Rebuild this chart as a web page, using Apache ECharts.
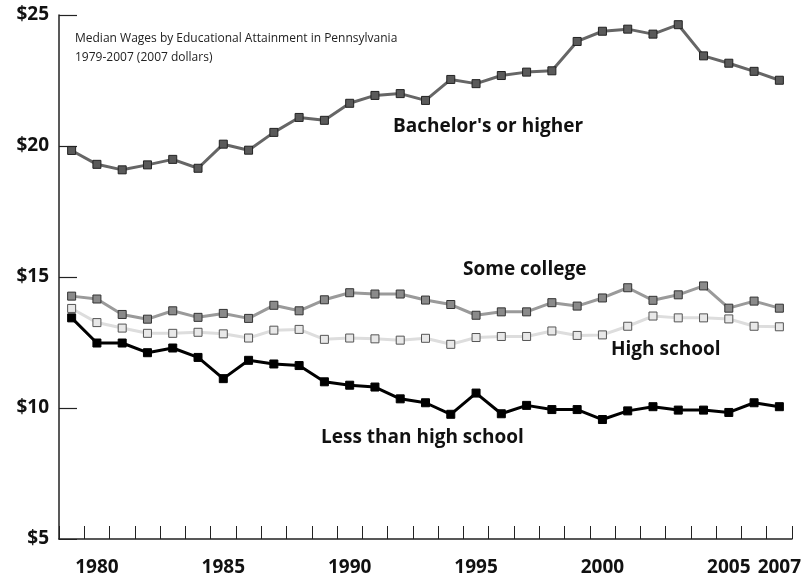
<!DOCTYPE html>
<html>
<head>
<meta charset="utf-8">
<script src="https://cdn.jsdelivr.net/npm/echarts@6/dist/echarts.min.js"></script>
<style>html,body{margin:0;padding:0;background:#fff}#c{width:812px;height:580px}</style>
</head>
<body>
<div id="c"></div>
<script>
var years = ['1979','1980','1981','1982','1983','1984','1985','1986','1987','1988','1989','1990','1991','1992','1993','1994','1995','1996','1997','1998','1999','2000','2001','2002','2003','2004','2005','2006','2007'];
var shownYears = ['1980','1985','1990','1995','2000','2005','2007'];
var yTicks = [10, 15, 20, 25];
var bachelors = [19.83,19.30,19.09,19.28,19.49,19.15,20.07,19.84,20.52,21.09,20.98,21.63,21.93,22.00,21.74,22.54,22.38,22.69,22.82,22.87,23.99,24.38,24.46,24.27,24.63,23.44,23.16,22.85,22.51];
var someCollege = [14.27,14.16,13.57,13.39,13.71,13.46,13.61,13.42,13.92,13.71,14.13,14.40,14.35,14.35,14.12,13.95,13.54,13.67,13.67,14.02,13.89,14.20,14.59,14.11,14.32,14.66,13.81,14.08,13.81];
var highSchool = [13.80,13.26,13.05,12.85,12.85,12.89,12.83,12.67,12.97,13.00,12.62,12.67,12.64,12.59,12.66,12.43,12.69,12.73,12.73,12.94,12.77,12.79,13.12,13.51,13.44,13.44,13.40,13.12,13.10];
var lessThanHS = [13.44,12.48,12.48,12.11,12.29,11.93,11.12,11.82,11.68,11.62,11.00,10.87,10.80,10.35,10.20,9.76,10.57,9.78,10.10,9.94,9.94,9.56,9.89,10.05,9.92,9.92,9.83,10.20,10.05];

var FONT = '"Open Sans", "DejaVu Sans", sans-serif';
var GRID_LEFT = 59, Y_TICK_LEN = 18;
function mk(name, data, lineColor, fill, border, z) {
  return {
    name: name, type: 'line', data: data, z: z,
    symbol: 'rect', symbolSize: 8, showSymbol: true,
    lineStyle: {color: lineColor, width: 3},
    itemStyle: {color: fill, borderColor: border, borderWidth: 1},
    emphasis: {disabled: true}, animation: false
  };
}
var labelGraphics = [
  {id: 'lbl0', type: 'text', left: 393, top: 117, style: {text: "Bachelor's or higher", font: 'bold 19px ' + FONT, fill: '#111'}},
  {id: 'lbl1', type: 'text', left: 463, top: 260, style: {text: 'Some college', font: 'bold 19px ' + FONT, fill: '#111'}},
  {id: 'lbl2', type: 'text', left: 611, top: 340, style: {text: 'High school', font: 'bold 19px ' + FONT, fill: '#111'}},
  {id: 'lbl3', type: 'text', left: 321, top: 428, style: {text: 'Less than high school', font: 'bold 19px ' + FONT, fill: '#111'}}
];
var chart = echarts.init(document.getElementById('c'));
chart.setOption({
  backgroundColor: '#fff',
  animation: false,
  title: {
    text: 'Median Wages by Educational Attainment in Pennsylvania\n1979-2007 (2007 dollars)',
    left: 70, top: 24,
    textStyle: {fontFamily: FONT, fontSize: 12, fontWeight: 'normal', color: '#222', lineHeight: 19}
  },
  grid: {left: GRID_LEFT, right: 20, top: 15, bottom: 41, containLabel: false},
  xAxis: {
    type: 'category', data: years, boundaryGap: true,
    axisLine: {show: true, lineStyle: {color: '#222', width: 1.5}},
    axisTick: {show: true, inside: true, length: 13, interval: function () { return true; }},
    axisLabel: {
      interval: function (i, v) { return shownYears.indexOf(v) >= 0; },
      margin: 19, fontFamily: FONT, fontSize: 19, fontWeight: 'bold', color: '#111'
    },
    splitLine: {show: false}
  },
  yAxis: {
    type: 'value', min: 5, max: 25, interval: 5,
    axisLine: {show: true, lineStyle: {color: '#222', width: 1.5}},
    axisTick: {show: true, inside: true, length: Y_TICK_LEN},
    axisLabel: {formatter: '${value}', margin: 10, fontFamily: FONT, fontSize: 19, fontWeight: 'bold', color: '#111'},
    splitLine: {show: false}
  },
  series: [
    mk("High school", highSchool, '#dddddd', '#e8e8e8', '#555', 2),
    mk("Less than high school", lessThanHS, '#000000', '#000000', '#000', 3),
    mk("Some college", someCollege, '#9a9a9a', '#8a8a8a', '#333', 4),
    mk("Bachelor's or higher", bachelors, '#666666', '#5a5a5a', '#222', 5)
  ],
  graphic: labelGraphics
});
// y-axis inside ticks, positioned through the y axis scale
var tickLines = yTicks.map(function (v, i) {
  var py = Math.round(chart.convertToPixel({yAxisIndex: 0}, v)) + 0.5;
  return {id: 'ytick' + i, type: 'line', silent: true, z: 10,
    shape: {x1: GRID_LEFT, y1: py, x2: GRID_LEFT + Y_TICK_LEN, y2: py},
    style: {stroke: '#222', lineWidth: 1.2}};
});
chart.setOption({graphic: labelGraphics.concat(tickLines)});
</script>
</body>
</html>
